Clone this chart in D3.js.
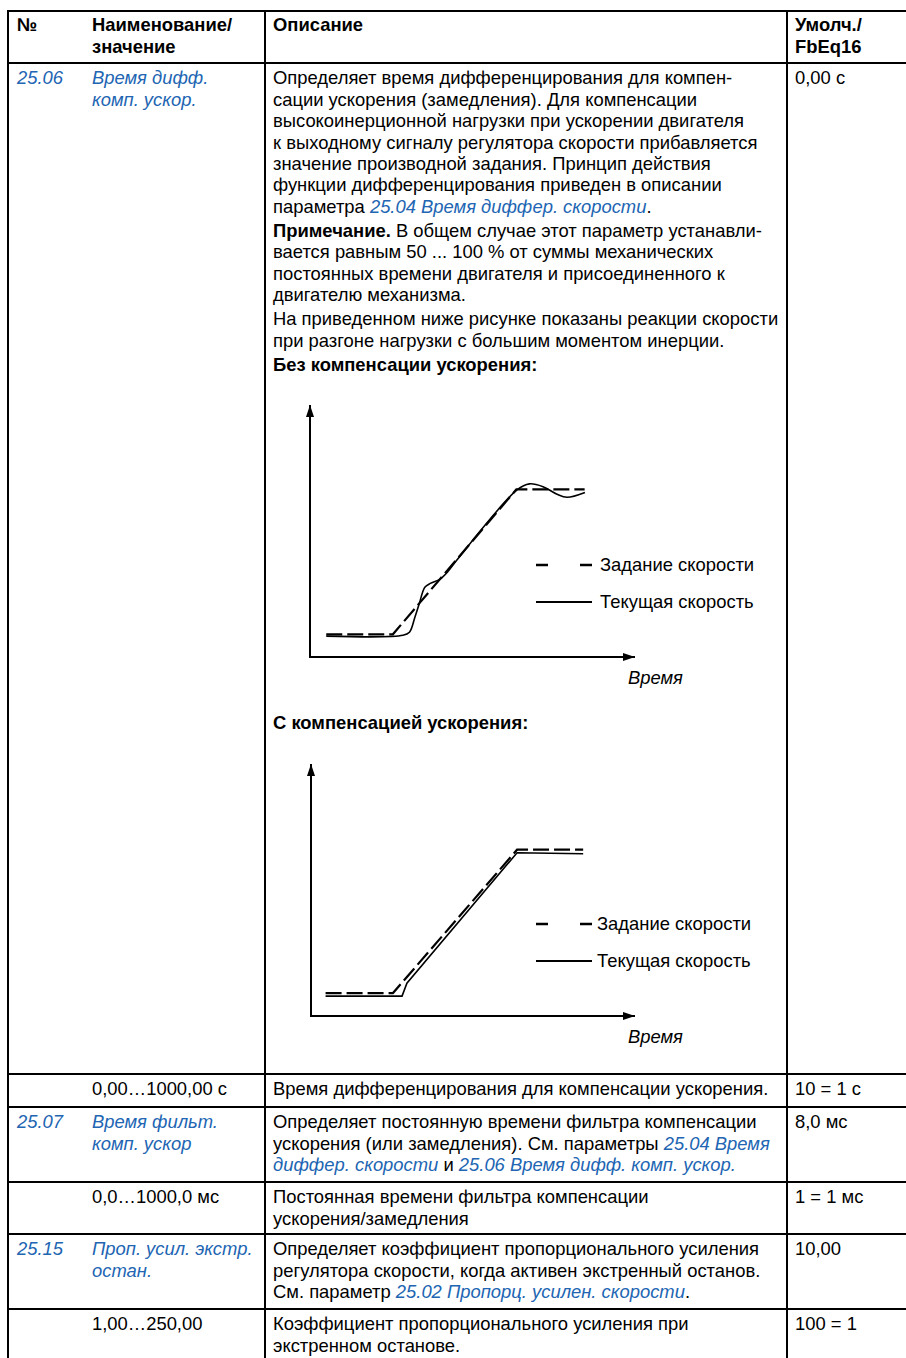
<!DOCTYPE html>
<html>
<head>
<meta charset="utf-8">
<script src="https://cdn.jsdelivr.net/npm/d3@7"></script>
<style>
body { margin: 0; background: #fff; }
svg text { font-family: "Liberation Sans", Arial, sans-serif; font-size: 18.4px; fill: #000; }
</style>
</head>
<body>
<svg id="page" width="906" height="1358"></svg>
<script>
// ---- table content ----
var headers = [["№"], ["Наименование/", "значение"], ["Описание"], ["Умолч./", "FbEq16"]];

var paramNums = ["25.06", "", "25.07", "", "25.15", ""];
var paramNames = [
    ["Время дифф.", "комп. ускор."],
    ["0,00…1000,00 с"],
    ["Время фильт.", "комп. ускор"],
    ["0,0…1000,0 мс"],
    ["Проп. усил. экстр.", "остан."],
    ["1,00…250,00"]
];
// *bold*  _link_ ; each inner array is a paragraph
var paramDescs = [
    [
        ["Определяет время дифференцирования для компен-",
         "сации ускорения (замедления). Для компенсации",
         "высокоинерционной нагрузки при ускорении двигателя",
         "к выходному сигналу регулятора скорости прибавляется",
         "значение производной задания. Принцип действия",
         "функции дифференцирования приведен в описании",
         "параметра _25.04 Время диффер. скорости_."],
        ["*Примечание.* В общем случае этот параметр устанавли-",
         "вается равным 50 ... 100 % от суммы механических",
         "постоянных времени двигателя и присоединенного к",
         "двигателю механизма."],
        ["На приведенном ниже рисунке показаны реакции скорости",
         "при разгоне нагрузки с большим моментом инерции."],
        ["*Без компенсации ускорения:*"]
    ],
    [["Время дифференцирования для компенсации ускорения."]],
    [["Определяет постоянную времени фильтра компенсации",
      "ускорения (или замедления). См. параметры _25.04 Время_",
      "_диффер. скорости_ и _25.06 Время дифф. комп. ускор._"]],
    [["Постоянная времени фильтра компенсации",
      "ускорения/замедления"]],
    [["Определяет коэффициент пропорционального усиления",
      "регулятора скорости, когда активен экстренный останов.",
      "См. параметр _25.02 Пропорц. усилен. скорости_."]],
    [["Коэффициент пропорционального усиления при",
      "экстренном останове."]]
];
var paramDefaults = [["0,00 с"], ["10 = 1 с"], ["8,0 мс"], ["1 = 1 мс"], ["10,00"], ["100 = 1"]];

// ---- diagrams: [time, speed] in percent of axis length ----
var figTitles = ["", "С компенсацией ускорения:"];
var legendLabels = ["Задание скорости", "Текущая скорость"];
var timeLabel = "Время";
var refNoComp = [[5, 9], [25.5, 9], [63.5, 66.5], [84.5, 66.5]];
var actNoComp = [[5, 8.3], [28.6, 8.6], [30.6, 9.8], [32.3, 15.9], [33.7, 21.5], [34.6, 25.5],
    [35.4, 27.8], [37, 29.2], [40, 30.9], [42.5, 34], [45.2, 38.5], [63.7, 66.3],
    [67.5, 68.7], [71.7, 67.6], [76, 64.6], [79.1, 63.4], [84.6, 65.3]];
var refComp = [[4.5, 9.1], [25.3, 9.1], [63.6, 66], [84, 66]];
var actComp = [[4.5, 7.9], [28.1, 7.9], [29.6, 13], [63.6, 64.8], [84, 64.4]];

// ---- layout ----
var W = 906, H = 1358;
var colLines = [8, 265, 787];
var colText = [17, 92, 273, 795];
var rowLines = [11, 63, 1074, 1107, 1182, 1234, 1309];
var LH = 21.4, PARA = 2.7;
var blue = "#2165b3";

var svg = d3.select("#page");

function addRuns(textSel, line) {
    var parts = line.split(/(\*[^*]+\*|_[^_]+_)/).filter(function(s) { return s.length; });
    parts.forEach(function(p) {
        var t = textSel.append("tspan");
        if (p[0] == "*") {
            t.text(p.slice(1, -1)).attr("font-weight", "bold");
        } else if (p[0] == "_") {
            t.text(p.slice(1, -1)).attr("font-style", "italic").style("fill", blue);
        } else {
            t.text(p);
        }
    });
}

function drawLines(x, y, lines, style) {
    lines.forEach(function(l, i) {
        var t = svg.append("text").attr("x", x).attr("y", y + i * LH);
        if (style == "link") t.attr("font-style", "italic").style("fill", blue);
        if (style == "bold") t.attr("font-weight", "bold");
        addRuns(t, l);
    });
}

// header
headers.forEach(function(h, i) {
    h.forEach(function(s, j) {
        svg.append("text").attr("x", colText[i]).attr("y", 31 + j * 22)
            .attr("font-weight", "bold").text(s);
    });
});

// rows
var rowTops = rowLines.slice(1);
paramNames.forEach(function(name, r) {
    var y0 = rowTops[r] + 21.3;
    if (paramNums[r]) {
        drawLines(colText[0], y0, [paramNums[r]], "link");
        drawLines(colText[1], y0, name, "link");
    } else {
        drawLines(colText[1], y0, name, "plain");
    }
    drawLines(colText[3], y0, paramDefaults[r], "plain");
    var y = y0;
    paramDescs[r].forEach(function(par, k) {
        if (k > 0) y += PARA;
        drawLines(colText[2], y, par, "plain");
        y += par.length * LH;
    });
});

// ---- diagrams ----
var defs = svg.append("defs");
defs.append("marker").attr("id", "arr").attr("viewBox", "0 0 12 8")
    .attr("refX", 12).attr("refY", 4).attr("markerWidth", 12).attr("markerHeight", 8)
    .attr("markerUnits", "userSpaceOnUse").attr("orient", "auto")
    .append("path").attr("d", "M0,0 L12,4 L0,8 Z").attr("fill", "#000");

function drawFigure(axisY, xLeft, ref, act, smooth, legendX) {
    var x = d3.scaleLinear().domain([0, 100]).range([xLeft, 635]);
    var y = d3.scaleLinear().domain([0, 100]).range([axisY, axisY - 252]);
    var g = svg.append("g");
    g.append("line").attr("x1", x(0)).attr("y1", y(0)).attr("x2", x(0)).attr("y2", y(100))
        .attr("stroke", "#000").attr("stroke-width", 2).attr("marker-end", "url(#arr)");
    g.append("line").attr("x1", x(0) - 1).attr("y1", y(0)).attr("x2", x(100)).attr("y2", y(0))
        .attr("stroke", "#000").attr("stroke-width", 2).attr("marker-end", "url(#arr)");
    var lineRef = d3.line().x(function(d) { return x(d[0]); }).y(function(d) { return y(d[1]); });
    var lineAct = d3.line().x(function(d) { return x(d[0]); }).y(function(d) { return y(d[1]); })
        .curve(smooth ? d3.curveCatmullRom.alpha(0.5) : d3.curveLinear);
    g.append("path").attr("d", lineAct(act)).attr("fill", "none")
        .attr("stroke", "#000").attr("stroke-width", 1.6);
    g.append("path").attr("d", lineRef(ref)).attr("fill", "none")
        .attr("stroke", "#000").attr("stroke-width", 2.2).attr("stroke-dasharray", "16,5");
    // legend
    var ly = [y(36.5), y(21.8)];
    g.append("line").attr("x1", 536).attr("x2", 592).attr("y1", ly[0]).attr("y2", ly[0])
        .attr("stroke", "#000").attr("stroke-width", 2.4).attr("stroke-dasharray", "12,32");
    g.append("line").attr("x1", 536).attr("x2", 592).attr("y1", ly[1]).attr("y2", ly[1])
        .attr("stroke", "#000").attr("stroke-width", 2);
    legendLabels.forEach(function(l, i) {
        g.append("text").attr("x", legendX).attr("y", ly[i] + 6).text(l);
    });
    g.append("text").attr("x", 628).attr("y", y(0) + 27).attr("font-style", "italic").text(timeLabel);
}

drawFigure(657, 310, refNoComp, actNoComp, true, 600);
svg.append("text").attr("x", colText[2]).attr("y", 729).attr("font-weight", "bold").text(figTitles[1]);
drawFigure(1016, 311, refComp, actComp, false, 597);

// ---- grid lines ----
rowLines.forEach(function(yy) {
    svg.append("line").attr("x1", colLines[0] - 1).attr("x2", W).attr("y1", yy).attr("y2", yy)
        .attr("stroke", "#000").attr("stroke-width", 2);
});
colLines.forEach(function(xx) {
    svg.append("line").attr("x1", xx).attr("x2", xx).attr("y1", rowLines[0]).attr("y2", H)
        .attr("stroke", "#000").attr("stroke-width", 2);
});
</script>
</body>
</html>
